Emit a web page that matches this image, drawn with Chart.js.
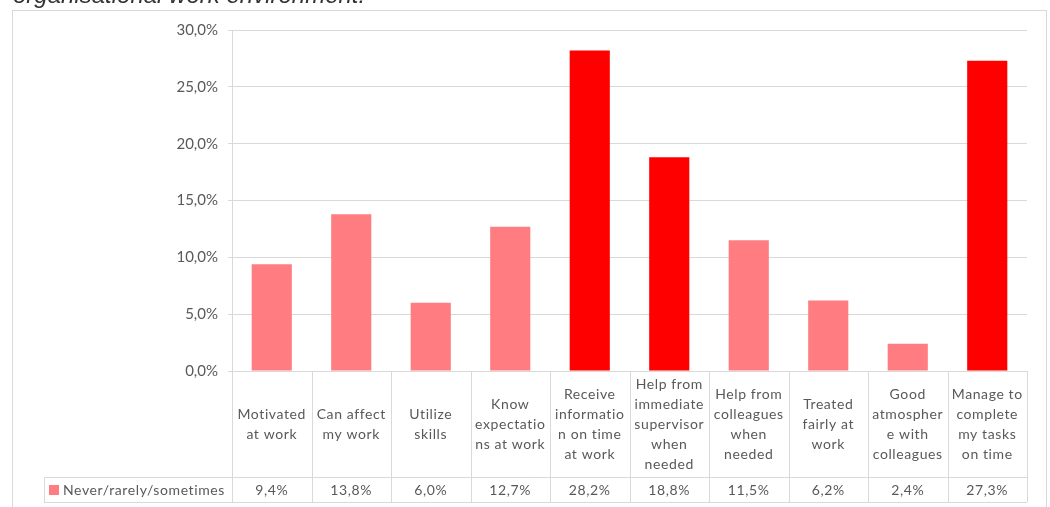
<!DOCTYPE html>
<html>
<head>
<meta charset="utf-8">
<title>Work environment</title>
<script src="https://cdn.jsdelivr.net/npm/chart.js@4/dist/chart.umd.min.js"></script>
<style>
  html, body { margin: 0; padding: 0; background: #fff; overflow: hidden; }
  canvas { display: block; }
</style>
</head>
<body>
<canvas id="workChart" width="1050" height="507"></canvas>
<script>
// Category names, already wrapped the way they appear in the table cells
const categories = [
  ['Motivated', 'at work'],
  ['Can affect', 'my work'],
  ['Utilize', 'skills'],
  ['Know', 'expectatio', 'ns at work'],
  ['Receive', 'informatio', 'n on time', 'at work'],
  ['Help from', 'immediate', 'supervisor', 'when', 'needed'],
  ['Help from', 'colleagues', 'when', 'needed'],
  ['Treated', 'fairly at', 'work'],
  ['Good', 'atmospher', 'e with', 'colleagues'],
  ['Manage to', 'complete', 'my tasks', 'on time']
];
const seriesName = 'Never/rarely/sometimes';
const values = [9.4, 13.8, 6.0, 12.7, 28.2, 18.8, 11.5, 6.2, 2.4, 27.3];
const yTicks = [0, 5, 10, 15, 20, 25, 30];

const LIGHT = '#FF7C80';
const DARK = '#FF0000';
const GRID = '#d9d9d9';
const TEXT = '#595959';
const FONT = "Lato, 'Open Sans', sans-serif";

// anything above 15% gets the strong red
const barColors = values.map(v => v > 15 ? DARK : LIGHT);

function pct(v) {
  return v.toFixed(1).replace('.', ',') + '%';
}

// Draws the outer frame, the cut-off heading and the Excel-style data table
const tablePlugin = {
  id: 'dataTable',
  afterDraw(chart) {
    const ctx = chart.ctx;
    const area = chart.chartArea;
    const n = categories.length;
    const cellW = (area.right - area.left) / n;
    const top = area.bottom;
    const rowSplit = 477;
    const bottom = 502;
    const legendLeft = 44;

    ctx.save();

    // heading above the chart (only the lower part shows)
    ctx.font = "italic 24px 'Liberation Sans', Arial, sans-serif";
    ctx.fillStyle = '#333';
    ctx.textAlign = 'left';
    ctx.textBaseline = 'alphabetic';
    ctx.fillText('organisational work environment.', 13, 3);

    // chart frame
    ctx.strokeStyle = GRID;
    ctx.lineWidth = 1;
    ctx.strokeRect(12.5, 10.5, 1034, 505);

    // table grid
    ctx.beginPath();
    for (let i = 0; i <= n; i++) {
      const x = Math.round(area.left + i * cellW) + 0.5;
      ctx.moveTo(x, top);
      ctx.lineTo(x, bottom);
    }
    ctx.moveTo(legendLeft + 0.5, rowSplit);
    ctx.lineTo(legendLeft + 0.5, bottom);
    ctx.moveTo(legendLeft, rowSplit + 0.5);
    ctx.lineTo(area.right, rowSplit + 0.5);
    ctx.moveTo(legendLeft, bottom + 0.5);
    ctx.lineTo(area.right, bottom + 0.5);
    ctx.stroke();

    ctx.fillStyle = TEXT;
    ctx.font = '14px ' + FONT;
    ctx.letterSpacing = '0.6px';
    ctx.textAlign = 'center';
    ctx.textBaseline = 'middle';

    const lineH = 20;
    const labelMid = (top + rowSplit) / 2 + 0.5;
    categories.forEach((lines, i) => {
      const cx = chart.scales.x.getPixelForValue(i);
      const y0 = labelMid - (lines.length - 1) * lineH / 2;
      lines.forEach((line, j) => ctx.fillText(line, cx, y0 + j * lineH));
      ctx.fillText(pct(values[i]), cx, (rowSplit + bottom) / 2 + 1);
    });

    // legend key in the first cell of the value row
    ctx.fillStyle = LIGHT;
    ctx.fillRect(49, 485, 10, 10);
    ctx.fillStyle = TEXT;
    ctx.textAlign = 'left';
    ctx.fillText(seriesName, 63, (rowSplit + bottom) / 2 + 1);

    ctx.restore();
  }
};

new Chart(document.getElementById('workChart'), {
  type: 'bar',
  data: {
    labels: categories.map(l => l.join(' ')),
    datasets: [{
      label: seriesName,
      data: values,
      backgroundColor: barColors,
      barPercentage: 0.505,
      categoryPercentage: 1
    }]
  },
  options: {
    responsive: false,
    animation: false,
    layout: { padding: { left: 13, top: 30, right: 23, bottom: 136 } },
    plugins: {
      legend: { display: false },
      tooltip: { enabled: false }
    },
    scales: {
      x: { display: false },
      y: {
        min: 0,
        max: 30,
        afterFit(scale) { scale.width = 219; },
        afterBuildTicks(scale) { scale.ticks = yTicks.map(v => ({ value: v })); },
        border: { display: true, color: GRID },
        grid: { color: GRID, tickLength: 4 },
        ticks: {
          padding: 10,
          color: TEXT,
          font: { family: FONT, size: 15 },
          callback: v => pct(v)
        }
      }
    }
  },
  plugins: [tablePlugin]
});
</script>
</body>
</html>
